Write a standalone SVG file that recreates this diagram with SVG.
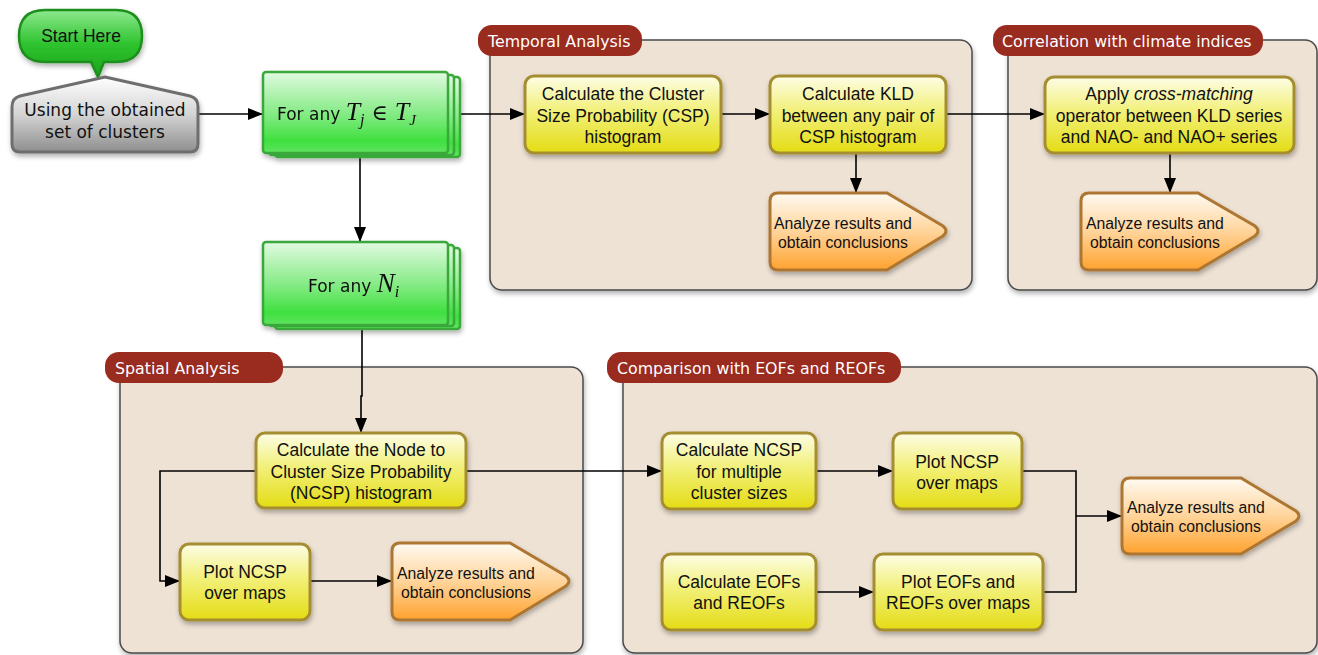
<svg xmlns="http://www.w3.org/2000/svg" width="1318" height="655" viewBox="0 0 1318 655">
  <defs>
    <linearGradient id="gYellow" x1="0" y1="0" x2="0" y2="1">
      <stop offset="0" stop-color="#fdfde6"/>
      <stop offset="0.45" stop-color="#f2f07a"/>
      <stop offset="1" stop-color="#e4dc14"/>
    </linearGradient>
    <linearGradient id="gOrange" x1="0" y1="0" x2="0" y2="1">
      <stop offset="0" stop-color="#fffaf2"/>
      <stop offset="0.5" stop-color="#ffd49a"/>
      <stop offset="1" stop-color="#ffa22e"/>
    </linearGradient>
    <linearGradient id="gGreen" x1="0" y1="0" x2="0" y2="1">
      <stop offset="0" stop-color="#e2fae2"/>
      <stop offset="0.55" stop-color="#7eea7e"/>
      <stop offset="0.85" stop-color="#3fe03f"/>
      <stop offset="1" stop-color="#5fe35f"/>
    </linearGradient>
    <linearGradient id="gStart" x1="0" y1="0" x2="0" y2="1">
      <stop offset="0" stop-color="#8ee88e"/>
      <stop offset="0.5" stop-color="#2fc42f"/>
      <stop offset="1" stop-color="#1aa31a"/>
    </linearGradient>
    <linearGradient id="gGray" x1="0" y1="0" x2="0" y2="1">
      <stop offset="0" stop-color="#ffffff"/>
      <stop offset="0.5" stop-color="#d4d4d4"/>
      <stop offset="1" stop-color="#8e8e8e"/>
    </linearGradient>
    <filter id="shadow" x="-10%" y="-10%" width="130%" height="140%">
      <feDropShadow dx="1" dy="3" stdDeviation="2.5" flood-color="#000" flood-opacity="0.3"/>
    </filter>
    <marker id="arrow" markerUnits="userSpaceOnUse" markerWidth="15" markerHeight="12" refX="15" refY="6" orient="auto">
      <path d="M0,0 L15,6 L0,12 z" fill="#000"/>
    </marker>
    <style>
      .panel { fill: #eee2d5; stroke: #4a4a4a; stroke-width: 1.5; filter: url(#shadow); }
      .tab { fill: #9a2b1f; }
      .tabtext { font-family: "DejaVu Sans", sans-serif; font-size: 15.8px; fill: #ffffff; }
      .box { fill: url(#gYellow); stroke: #a58e32; stroke-width: 3; filter: url(#shadow); }
      .end { fill: url(#gOrange); stroke: #ad7630; stroke-width: 3; filter: url(#shadow); }
      .loop { fill: url(#gGreen); stroke: #3aa83a; stroke-width: 2.5; }
      .t { font-family: "Liberation Sans", Arial, sans-serif; font-size: 17.5px; fill: #111; text-anchor: middle; }
      .ts { font-family: "Liberation Sans", Arial, sans-serif; font-size: 15.8px; fill: #111; }
      .tl { font-family: "DejaVu Sans", sans-serif; font-size: 17px; fill: #111; }
      .m { font-family: "Liberation Serif", "Times New Roman", serif; font-style: italic; }
      .conn { fill: none; stroke: #000; stroke-width: 1.6; }
    </style>
  </defs>

  <!-- panels -->
  <g id="panel-temporal">
    <rect class="panel" x="490" y="40" width="482" height="250" rx="12"/>
    <rect class="tab" x="478" y="25" width="164" height="31" rx="14"/>
    <text class="tabtext" x="488" y="47">Temporal Analysis</text>
  </g>
  <g id="panel-correlation">
    <rect class="panel" x="1008" y="40" width="309" height="250" rx="12"/>
    <rect class="tab" x="993" y="25" width="270" height="31" rx="14"/>
    <text class="tabtext" x="1002" y="47">Correlation with climate indices</text>
  </g>
  <g id="panel-spatial">
    <rect class="panel" x="120" y="367" width="463" height="286" rx="12"/>
    <rect class="tab" x="105" y="352" width="178" height="31" rx="14"/>
    <text class="tabtext" x="115" y="374">Spatial Analysis</text>
  </g>
  <g id="panel-comparison">
    <rect class="panel" x="623" y="367" width="694" height="286" rx="12"/>
    <rect class="tab" x="607" y="352" width="294" height="31" rx="14"/>
    <text class="tabtext" x="617" y="374">Comparison with EOFs and REOFs</text>
  </g>

  <!-- connectors -->
  <g id="connectors">
    <path class="conn" d="M198,114 H263" marker-end="url(#arrow)"/>
    <path class="conn" d="M461,114 H525" marker-end="url(#arrow)"/>
    <path class="conn" d="M721,114 H770" marker-end="url(#arrow)"/>
    <path class="conn" d="M946,114 H1045" marker-end="url(#arrow)"/>
    <path class="conn" d="M856,153 V193" marker-end="url(#arrow)"/>
    <path class="conn" d="M1170,153 V193" marker-end="url(#arrow)"/>
    <path class="conn" d="M360,157 V242" marker-end="url(#arrow)"/>
    <path class="conn" d="M362,330 V396 H361 V433" marker-end="url(#arrow)"/>
    <path class="conn" d="M256,471 H160 V581 H180" marker-end="url(#arrow)"/>
    <path class="conn" d="M310,581 H392" marker-end="url(#arrow)"/>
    <path class="conn" d="M466,471 H662" marker-end="url(#arrow)"/>
    <path class="conn" d="M816,471 H893" marker-end="url(#arrow)"/>
    <path class="conn" d="M816,592 H874" marker-end="url(#arrow)"/>
    <path class="conn" d="M1022,471 H1076 V592 H1043"/>
    <path class="conn" d="M1076,516 H1122" marker-end="url(#arrow)"/>
  </g>

  <!-- start -->
  <g id="start-here">
    <path d="M45,10 H116 Q142,10 142,36 Q142,62 116,62 H104 L98,77 L91,62 H45 Q19,62 19,36 Q19,10 45,10 Z" fill="url(#gStart)" stroke="#1d8f1d" stroke-width="2.5" filter="url(#shadow)"/>
    <text class="t" x="81" y="42" style="font-size:17.5px">Start Here</text>
  </g>
  <g id="obtained-clusters">
    <path d="M105,77 L190,96 Q198,98 198,107 V144 Q198,152 190,152 H20 Q12,152 12,144 V107 Q12,98 20,96 Z" fill="url(#gGray)" stroke="#6e6e6e" stroke-width="3" filter="url(#shadow)"/>
    <text class="tl" x="105" y="116" text-anchor="middle">Using the obtained</text>
    <text class="tl" x="105" y="138" text-anchor="middle">set of clusters</text>
  </g>

  <!-- loops -->
  <g id="loop-time" filter="url(#shadow)">
    <rect class="loop" x="275" y="77" width="185" height="80" rx="3"/>
    <rect class="loop" x="269" y="75" width="185" height="80" rx="3"/>
    <rect class="loop" x="263" y="72" width="185" height="81" rx="3"/>
    <text class="tl" x="277" y="120">For any <tspan class="m" font-size="26">T</tspan><tspan class="m" font-size="16" dy="5">j</tspan><tspan font-family="DejaVu Serif, serif" font-size="22" dy="-5"> ∈ </tspan><tspan class="m" font-size="26">T</tspan><tspan class="m" font-size="15" dy="5">J</tspan></text>
  </g>
  <g id="loop-node" filter="url(#shadow)">
    <rect class="loop" x="275" y="248" width="185" height="81" rx="3"/>
    <rect class="loop" x="269" y="245" width="185" height="81" rx="3"/>
    <rect class="loop" x="263" y="242" width="185" height="83" rx="3"/>
    <text class="tl" x="308" y="292">For any <tspan class="m" font-size="27">N</tspan><tspan class="m" font-size="16" dy="5">i</tspan></text>
  </g>

  <!-- temporal analysis -->
  <g id="calc-csp">
    <rect class="box" x="525" y="76" width="196" height="77" rx="9"/>
    <text class="t" x="623" y="100">Calculate the Cluster</text>
    <text class="t" x="623" y="122">Size Probability (CSP)</text>
    <text class="t" x="623" y="143">histogram</text>
  </g>
  <g id="calc-kld">
    <rect class="box" x="770" y="76" width="176" height="77" rx="9"/>
    <text class="t" x="858" y="100">Calculate KLD</text>
    <text class="t" x="858" y="122">between any pair of</text>
    <text class="t" x="858" y="143">CSP histogram</text>
  </g>
  <g id="analyze-temporal">
    <path class="end" d="M778,193 H887 L943,226 Q949,231 943,236 L887,270 H778 Q770,270 770,262 V201 Q770,193 778,193 Z"/>
    <text class="ts" x="774" y="229">Analyze results and</text>
    <text class="ts" x="778" y="248">obtain conclusions</text>
  </g>

  <!-- correlation -->
  <g id="cross-matching">
    <rect class="box" x="1045" y="77" width="249" height="76" rx="9"/>
    <text class="t" x="1169" y="100">Apply <tspan font-style="italic">cross-matching</tspan></text>
    <text class="t" x="1169" y="122">operator between KLD series</text>
    <text class="t" x="1169" y="143">and NAO- and NAO+ series</text>
  </g>
  <g id="analyze-correlation">
    <path class="end" d="M1089,193 H1198 L1255,226 Q1261,231 1255,236 L1198,270 H1089 Q1081,270 1081,262 V201 Q1081,193 1089,193 Z"/>
    <text class="ts" x="1086" y="229">Analyze results and</text>
    <text class="ts" x="1090" y="248">obtain conclusions</text>
  </g>

  <!-- spatial analysis -->
  <g id="calc-ncsp">
    <rect class="box" x="256" y="433" width="210" height="75" rx="9"/>
    <text class="t" x="361" y="456">Calculate the Node to</text>
    <text class="t" x="361" y="478">Cluster Size Probability</text>
    <text class="t" x="361" y="499">(NCSP) histogram</text>
  </g>
  <g id="plot-ncsp-spatial">
    <rect class="box" x="180" y="544" width="130" height="76" rx="9"/>
    <text class="t" x="245" y="578">Plot NCSP</text>
    <text class="t" x="245" y="599">over maps</text>
  </g>
  <g id="analyze-spatial">
    <path class="end" d="M400,543 H510 L566,576 Q572,581 566,586 L510,620 H400 Q392,620 392,612 V551 Q392,543 400,543 Z"/>
    <text class="ts" x="397" y="579">Analyze results and</text>
    <text class="ts" x="401" y="598">obtain conclusions</text>
  </g>

  <!-- comparison -->
  <g id="calc-ncsp-multi">
    <rect class="box" x="662" y="433" width="154" height="76" rx="9"/>
    <text class="t" x="739" y="456">Calculate NCSP</text>
    <text class="t" x="739" y="478">for multiple</text>
    <text class="t" x="739" y="499">cluster sizes</text>
  </g>
  <g id="plot-ncsp-maps">
    <rect class="box" x="893" y="433" width="129" height="76" rx="9"/>
    <text class="t" x="957" y="468">Plot NCSP</text>
    <text class="t" x="957" y="489">over maps</text>
  </g>
  <g id="calc-eofs">
    <rect class="box" x="662" y="554" width="154" height="76" rx="9"/>
    <text class="t" x="739" y="588">Calculate EOFs</text>
    <text class="t" x="739" y="609">and REOFs</text>
  </g>
  <g id="plot-eofs">
    <rect class="box" x="874" y="554" width="169" height="76" rx="9"/>
    <text class="t" x="958" y="588">Plot EOFs and</text>
    <text class="t" x="958" y="609">REOFs over maps</text>
  </g>
  <g id="analyze-comparison">
    <path class="end" d="M1130,478 H1241 L1296,511 Q1302,516 1296,521 L1241,554 H1130 Q1122,554 1122,546 V486 Q1122,478 1130,478 Z"/>
    <text class="ts" x="1127" y="513">Analyze results and</text>
    <text class="ts" x="1131" y="532">obtain conclusions</text>
  </g>
</svg>
